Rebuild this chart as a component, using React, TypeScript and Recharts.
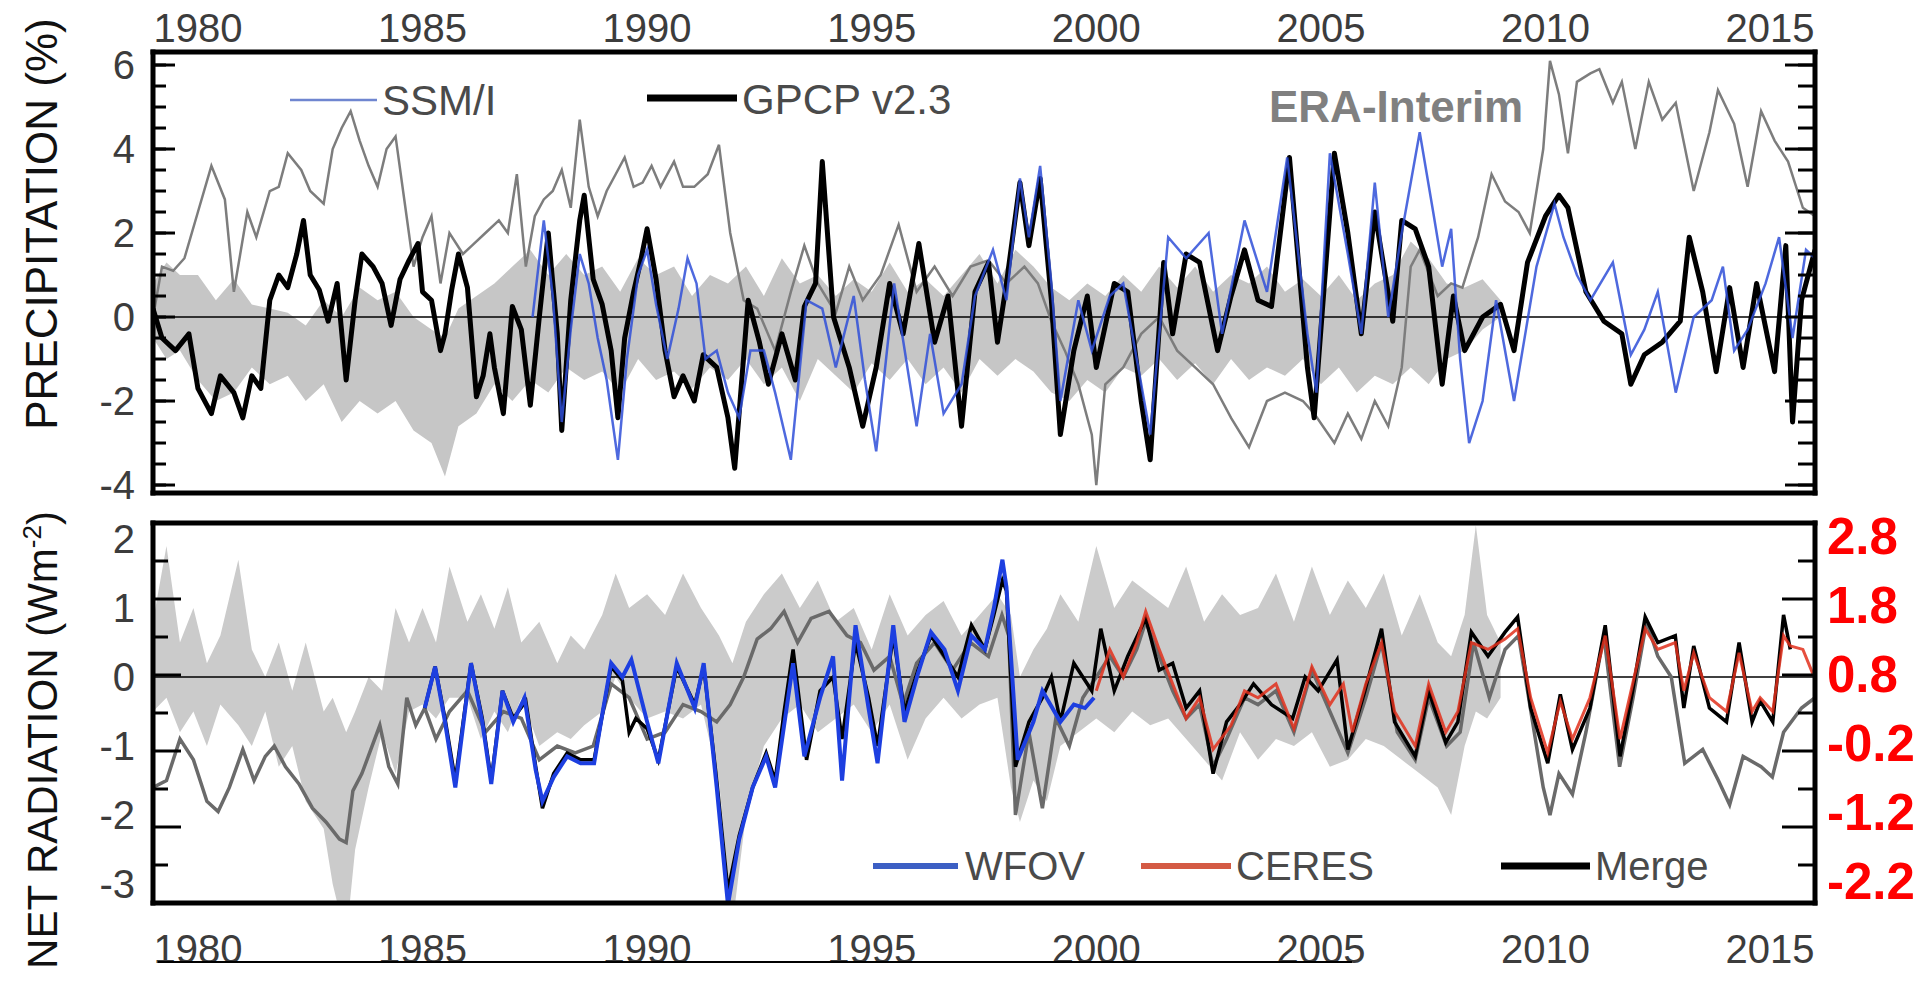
import React from 'react';
import { ComposedChart, Line, Area, XAxis, YAxis, ReferenceLine } from 'recharts';

type P = [number, number];
type B = [number, number, number];

// ---------- tick labels / positions ----------
const labelYears = [1980, 1985, 1990, 1995, 2000, 2005, 2010, 2015];
const allYears = [1980, 1981, 1982, 1983, 1984, 1985, 1986, 1987, 1988, 1989, 1990, 1991, 1992, 1993, 1994, 1995, 1996, 1997, 1998, 1999, 2000, 2001, 2002, 2003, 2004, 2005, 2006, 2007, 2008, 2009, 2010, 2011, 2012, 2013, 2014, 2015];
const decadeYears = [1980, 1990, 2000, 2010];
const precipTicks = [-4, -2, 0, 2, 4, 6];
const precipMinor = [-4, -3.5, -3, -2.5, -2, -1.5, -1, -0.5, 0, 0.5, 1, 1.5, 2, 2.5, 3, 3.5, 4, 4.5, 5, 5.5, 6];
const netTicks = [-3, -2, -1, 0, 1, 2];
const netFrameMajor = [1, 2, 3, 4];
const netFrameMinor = [0.5, 1.5, 2.5, 3.5, 4.5];
const redTicks = [2.8, 1.8, 0.8, -0.2, -1.2, -2.2];

// ---------- top panel: precipitation anomaly (%) ----------
const precipBand: B[] = [
  [1979.0, -0.5, 0.8], [1979.3, -1.0, 1.3], [1979.6, -0.8, 1.0], [1980.0, -1.5, 1.0], [1980.4, -2.0, 0.4], [1980.8, -1.8, 0.9],
  [1981.2, -1.2, 0.3], [1981.6, -1.6, 0.2], [1982.0, -1.4, 0.1], [1982.4, -2.0, -0.2], [1982.8, -1.6, 0.4], [1983.2, -2.5, 0.0],
  [1983.6, -2.0, 0.7], [1984.0, -2.3, 0.4], [1984.4, -2.0, 0.6], [1984.8, -2.7, 0.0], [1985.2, -3.0, -0.3], [1985.5, -3.8, -0.5],
  [1985.8, -2.6, 0.2], [1986.2, -2.3, 0.5], [1986.6, -1.6, 0.8], [1987.0, -2.0, 1.2], [1987.4, -1.5, 1.6], [1987.8, -1.8, 1.0],
  [1988.2, -1.2, 1.5], [1988.6, -1.5, 1.0], [1989.0, -1.3, 1.2], [1989.4, -1.8, 0.6], [1989.8, -1.0, 1.4], [1990.2, -1.5, 1.0],
  [1990.6, -1.3, 1.2], [1991.0, -1.7, 0.5], [1991.4, -1.2, 1.0], [1991.8, -1.5, 0.8], [1992.2, -1.0, 1.2], [1992.6, -1.6, 0.5],
  [1993.0, -1.2, 1.4], [1993.4, -2.0, 0.8], [1993.8, -1.0, 1.0], [1994.2, -1.4, 0.5], [1994.6, -1.8, 0.9], [1995.0, -1.1, 0.6],
  [1995.4, -1.5, 1.3], [1995.8, -1.0, 0.6], [1996.2, -1.6, 0.9], [1996.6, -1.2, 0.5], [1997.0, -1.8, 1.0], [1997.4, -1.0, 1.5],
  [1997.8, -1.4, 0.8], [1998.2, -1.0, 1.6], [1998.6, -1.3, 1.2], [1999.0, -1.8, 0.7], [1999.4, -2.0, 0.4], [1999.8, -1.5, 0.8],
  [2000.2, -1.8, 0.5], [2000.6, -1.2, 1.0], [2001.0, -1.4, 0.6], [2001.4, -1.0, 1.2], [2001.8, -1.5, 0.7], [2002.2, -1.1, 1.2],
  [2002.6, -1.6, 0.6], [2003.0, -1.0, 1.0], [2003.4, -1.5, 0.8], [2003.8, -1.2, 1.2], [2004.2, -1.4, 0.6], [2004.6, -1.0, 0.9],
  [2005.0, -1.6, 0.5], [2005.4, -1.2, 1.0], [2005.8, -1.8, 0.4], [2006.2, -1.4, 0.8], [2006.6, -1.6, 1.0], [2007.0, -1.2, 1.8],
  [2007.4, -1.6, 1.4], [2007.8, -1.0, 0.8], [2008.2, -0.8, 0.7], [2008.6, -0.3, 0.9], [2009.0, 0.0, 0.4],
];

const eraPrecip: P[] = [
  [1979.0, 0.0], [1979.2, 1.2], [1979.45, 1.1], [1979.7, 1.4], [1980.0, 2.5], [1980.3, 3.6], [1980.6, 2.8], [1980.8, 0.6],
  [1981.1, 2.5], [1981.3, 1.9], [1981.6, 3.0], [1981.8, 3.1], [1982.0, 3.9], [1982.3, 3.5], [1982.5, 3.0], [1982.8, 2.7],
  [1983.0, 4.0], [1983.2, 4.5], [1983.4, 4.9], [1983.6, 4.2], [1983.8, 3.6], [1984.0, 3.1], [1984.2, 4.0], [1984.4, 4.3],
  [1984.6, 2.75], [1984.8, 1.2], [1985.0, 1.9], [1985.2, 2.4], [1985.4, 0.8], [1985.6, 2.0], [1985.9, 1.5], [1986.1, 1.7],
  [1986.4, 2.0], [1986.7, 2.3], [1986.9, 2.0], [1987.1, 3.4], [1987.3, 1.2], [1987.5, 2.4], [1987.7, 2.8], [1987.9, 3.0],
  [1988.1, 3.5], [1988.3, 2.6], [1988.5, 4.7], [1988.7, 3.1], [1988.9, 2.4], [1989.1, 3.0], [1989.3, 3.4], [1989.5, 3.8],
  [1989.7, 3.1], [1989.9, 3.2], [1990.1, 3.6], [1990.3, 3.1], [1990.6, 3.7], [1990.8, 3.1], [1991.05, 3.1], [1991.35, 3.4],
  [1991.6, 4.1], [1991.85, 2.0], [1992.15, 0.4], [1992.45, 0.2], [1992.85, -0.8], [1993.2, 0.6], [1993.5, 1.7], [1993.8, 0.8],
  [1994.2, 0.1], [1994.5, 1.2], [1994.8, 0.4], [1995.2, 1.0], [1995.6, 2.2], [1996.0, 0.6], [1996.4, 1.2], [1996.8, 0.5],
  [1997.2, 1.2], [1997.6, 1.35], [1998.0, 0.8], [1998.4, 1.2], [1998.7, 0.8], [1999.0, -0.1], [1999.3, -0.8], [1999.6, -1.6],
  [1999.9, -2.8], [2000.0, -4.0], [2000.2, -1.6], [2000.6, -1.2], [2001.0, -0.4], [2001.4, 0.0], [2001.8, -0.8], [2002.2, -1.2],
  [2002.6, -1.6], [2003.0, -2.4], [2003.4, -3.1], [2003.8, -2.0], [2004.2, -1.8], [2004.6, -2.0], [2004.85, -2.3], [2005.3, -3.0],
  [2005.6, -2.3], [2005.9, -2.9], [2006.2, -2.0], [2006.5, -2.6], [2006.8, -1.2], [2007.0, 1.2], [2007.2, 1.6], [2007.6, 0.5],
  [2007.9, 0.8], [2008.15, 0.7], [2008.5, 1.9], [2008.8, 3.4], [2009.1, 2.75], [2009.4, 2.5], [2009.65, 2.0], [2009.95, 4.0],
  [2010.1, 6.1], [2010.3, 5.3], [2010.5, 3.9], [2010.7, 5.6], [2011.0, 5.8], [2011.2, 5.9], [2011.5, 5.1], [2011.7, 5.6],
  [2012.0, 4.0], [2012.3, 5.6], [2012.6, 4.7], [2012.9, 5.1], [2013.3, 3.0], [2013.65, 4.4], [2013.84, 5.4], [2014.2, 4.6],
  [2014.5, 3.1], [2014.8, 4.9], [2015.1, 4.2], [2015.4, 3.7], [2015.73, 2.6], [2016.0, 2.4],
];

const gpcp: P[] = [
  [1979.0, 0.2], [1979.2, -0.5], [1979.5, -0.8], [1979.8, -0.4], [1980.0, -1.7], [1980.3, -2.3], [1980.5, -1.4], [1980.8, -1.8],
  [1981.0, -2.4], [1981.2, -1.4], [1981.4, -1.7], [1981.6, 0.4], [1981.8, 1.0], [1982.0, 0.7], [1982.2, 1.5], [1982.35, 2.3],
  [1982.5, 1.0], [1982.7, 0.65], [1982.9, -0.1], [1983.1, 0.8], [1983.3, -1.5], [1983.5, 0.4], [1983.65, 1.5], [1983.9, 1.2],
  [1984.1, 0.8], [1984.3, -0.2], [1984.5, 0.9], [1984.7, 1.35], [1984.9, 1.75], [1985.0, 0.6], [1985.2, 0.4], [1985.4, -0.8],
  [1985.5, -0.4], [1985.65, 0.65], [1985.8, 1.5], [1986.0, 0.7], [1986.2, -1.9], [1986.35, -1.4], [1986.5, -0.4], [1986.6, -1.2],
  [1986.8, -2.3], [1987.0, 0.25], [1987.2, -0.3], [1987.4, -2.1], [1987.6, 0.0], [1987.8, 2.0], [1988.0, -0.4], [1988.1, -2.7],
  [1988.3, 0.4], [1988.5, 2.3], [1988.6, 2.9], [1988.8, 0.9], [1989.0, 0.3], [1989.2, -0.8], [1989.35, -2.4], [1989.5, -0.5],
  [1989.7, 0.6], [1989.85, 1.3], [1990.0, 2.1], [1990.2, 0.9], [1990.4, -0.8], [1990.6, -1.9], [1990.8, -1.4], [1991.05, -2.0],
  [1991.25, -0.9], [1991.55, -1.2], [1991.8, -2.4], [1991.95, -3.6], [1992.25, 0.4], [1992.5, -0.6], [1992.7, -1.6], [1993.0, -0.4],
  [1993.3, -1.5], [1993.5, 0.25], [1993.75, 0.8], [1993.9, 3.7], [1994.15, 0.0], [1994.5, -1.2], [1994.8, -2.6], [1995.1, -1.2],
  [1995.4, 0.8], [1995.7, -0.4], [1996.05, 1.75], [1996.4, -0.6], [1996.7, 0.5], [1997.0, -2.6], [1997.3, 0.6], [1997.6, 1.3],
  [1997.8, -0.6], [1998.0, 0.8], [1998.3, 3.2], [1998.5, 1.7], [1998.75, 3.3], [1999.0, 0.4], [1999.2, -2.8], [1999.5, -0.8],
  [1999.8, 0.5], [2000.0, -1.2], [2000.4, 0.8], [2000.7, 0.6], [2001.0, -2.0], [2001.2, -3.4], [2001.5, 1.3], [2001.7, -0.4],
  [2002.0, 1.5], [2002.3, 1.3], [2002.7, -0.8], [2003.0, 0.5], [2003.3, 1.6], [2003.6, 0.4], [2003.9, 0.25], [2004.3, 3.8],
  [2004.7, -1.2], [2004.85, -2.4], [2005.3, 3.9], [2005.6, 2.0], [2005.9, -0.4], [2006.2, 2.5], [2006.6, -0.1], [2006.8, 2.3],
  [2007.1, 2.1], [2007.4, 1.2], [2007.7, -1.6], [2007.95, 0.5], [2008.2, -0.8], [2008.6, 0.0], [2009.0, 0.3], [2009.3, -0.8],
  [2009.6, 1.3], [2010.0, 2.4], [2010.3, 2.9], [2010.5, 2.6], [2010.9, 0.6], [2011.3, -0.1], [2011.7, -0.4], [2011.9, -1.6],
  [2012.2, -0.9], [2012.6, -0.6], [2013.0, -0.1], [2013.2, 1.9], [2013.5, 0.6], [2013.8, -1.3], [2014.1, 0.7], [2014.4, -1.2],
  [2014.7, 0.8], [2015.1, -1.3], [2015.35, 1.7], [2015.5, -2.5], [2015.7, 0.4], [2016.0, 1.6],
];

const ssmi: P[] = [
  [1987.45, 0.0], [1987.7, 2.3], [1987.9, 0.5], [1988.1, -2.5], [1988.3, -0.3], [1988.5, 1.5], [1988.7, 0.8], [1988.9, -0.5],
  [1989.1, -1.5], [1989.35, -3.4], [1989.55, -1.0], [1989.8, 1.0], [1990.0, 1.6], [1990.2, 0.3], [1990.45, -1.0], [1990.7, 0.2],
  [1990.9, 1.4], [1991.1, 0.8], [1991.3, -1.0], [1991.55, -0.8], [1991.8, -1.8], [1992.05, -2.4], [1992.3, -0.8], [1992.6, -0.8],
  [1992.85, -1.8], [1993.2, -3.4], [1993.55, 0.4], [1993.9, 0.2], [1994.2, -1.2], [1994.6, 0.5], [1994.85, -1.5], [1995.1, -3.2],
  [1995.5, 0.8], [1996.0, -2.6], [1996.3, -0.4], [1996.6, -2.3], [1997.0, -1.6], [1997.3, 0.5], [1997.7, 1.6], [1998.0, 0.4],
  [1998.3, 3.3], [1998.5, 1.9], [1998.75, 3.6], [1999.0, 0.8], [1999.2, -2.0], [1999.6, 0.4], [1999.9, -0.8], [2000.3, 0.5],
  [2000.6, 0.8], [2000.9, -1.0], [2001.2, -2.8], [2001.6, 1.9], [2002.0, 1.4], [2002.5, 2.0], [2002.8, -0.4], [2003.3, 2.3],
  [2003.8, 0.6], [2004.25, 3.8], [2004.7, -0.4], [2004.9, -1.8], [2005.2, 3.9], [2005.6, 1.5], [2005.9, -0.4], [2006.2, 3.2],
  [2006.5, 0.0], [2006.8, 2.0], [2007.2, 4.4], [2007.5, 2.5], [2007.7, 1.2], [2007.9, 2.1], [2008.1, -1.0], [2008.3, -3.0],
  [2008.6, -2.0], [2008.9, 0.4], [2009.3, -2.0], [2009.8, 1.2], [2010.2, 2.7], [2010.4, 1.9], [2010.7, 1.0], [2011.0, 0.4],
  [2011.5, 1.3], [2011.9, -0.9], [2012.2, -0.3], [2012.5, 0.6], [2012.9, -1.8], [2013.3, 0.0], [2013.7, 0.4], [2013.95, 1.2],
  [2014.2, -0.8], [2014.5, -0.3], [2014.9, 0.8], [2015.2, 1.9], [2015.5, -0.5], [2015.8, 1.6], [2016.0, 1.4],
];

// ---------- bottom panel: net radiation (W m-2) ----------
const netBand: B[] = [
  [1979.0, -0.5, 0.8], [1979.3, -0.3, 1.9], [1979.6, -0.8, 0.5], [1979.9, -0.5, 1.0], [1980.2, -1.0, 0.2], [1980.5, -0.4, 0.6],
  [1980.9, -0.7, 1.7], [1981.2, -1.0, 0.4], [1981.5, -0.5, 0.0], [1981.8, -1.3, 0.5], [1982.1, -1.0, -0.2], [1982.4, -1.8, 0.5],
  [1982.8, -2.2, -0.5], [1983.0, -3.0, -0.3], [1983.3, -3.8, -0.8], [1983.5, -2.5, -0.5], [1983.8, -1.6, 0.0], [1984.1, -0.8, -0.2],
  [1984.4, -1.4, 1.0], [1984.7, -0.5, 0.5], [1985.0, -0.4, 1.0], [1985.3, -0.6, 0.5], [1985.6, -0.3, 1.6], [1986.0, -0.3, 0.8],
  [1986.3, -0.9, 1.2], [1986.6, -0.5, 0.7], [1986.9, -0.8, 1.3], [1987.2, -0.3, 0.5], [1987.6, -1.0, 0.8], [1988.0, -0.8, 0.2],
  [1988.3, -0.9, 0.6], [1988.6, -0.7, 0.4], [1989.0, -0.5, 0.9], [1989.3, 0.0, 1.5], [1989.6, -0.3, 1.0], [1990.0, -0.6, 1.2],
  [1990.4, -0.5, 0.9], [1990.8, -0.6, 1.5], [1991.2, -0.4, 1.0], [1991.6, -1.5, 0.6], [1991.9, -3.6, 0.2], [1992.2, -2.0, 0.8],
  [1992.6, -1.0, 1.2], [1993.0, -0.6, 1.5], [1993.4, -0.4, 1.0], [1993.8, -0.8, 1.4], [1994.2, -0.6, 0.8], [1994.6, -0.4, 1.0],
  [1995.0, -0.8, 0.4], [1995.4, -0.4, 1.2], [1995.8, -1.2, 0.6], [1996.2, -0.6, 0.9], [1996.6, -0.3, 1.1], [1997.0, -0.6, 0.6],
  [1997.4, -0.4, 0.9], [1997.8, -0.3, 1.2], [1998.1, -1.6, 0.9], [1998.3, -2.1, 0.0], [1998.6, -1.5, 0.4], [1998.9, -1.8, 0.7],
  [1999.2, -1.0, 1.2], [1999.6, -0.8, 0.8], [2000.0, -0.6, 1.9], [2000.4, -0.8, 1.0], [2000.8, -0.5, 1.4], [2001.2, -0.7, 1.2],
  [2001.6, -0.6, 1.0], [2002.0, -0.9, 1.6], [2002.4, -1.2, 0.8], [2002.8, -1.5, 1.2], [2003.2, -0.8, 0.9], [2003.6, -1.2, 1.0],
  [2004.0, -0.9, 1.5], [2004.4, -1.0, 0.8], [2004.8, -0.8, 1.6], [2005.2, -1.3, 0.9], [2005.6, -1.2, 1.4], [2006.0, -0.9, 1.0],
  [2006.4, -1.0, 1.5], [2006.8, -1.2, 0.6], [2007.2, -1.4, 1.2], [2007.6, -1.6, 0.5], [2007.9, -2.0, 0.3], [2008.2, -1.0, 0.9],
  [2008.45, -0.5, 2.2], [2008.7, -0.6, 0.9], [2009.0, -0.3, 0.5],
];

const eraNet: P[] = [
  [1979.0, -1.6], [1979.3, -1.5], [1979.6, -0.9], [1979.9, -1.2], [1980.2, -1.8], [1980.45, -1.95], [1980.7, -1.6], [1981.0, -1.05],
  [1981.25, -1.5], [1981.5, -1.15], [1981.7, -1.0], [1981.95, -1.3], [1982.25, -1.55], [1982.55, -1.9], [1982.85, -2.1], [1983.15, -2.35],
  [1983.3, -2.4], [1983.45, -1.65], [1983.65, -1.4], [1983.85, -1.05], [1984.05, -0.7], [1984.25, -1.3], [1984.45, -1.55], [1984.65, -0.3],
  [1984.85, -0.7], [1985.05, -0.45], [1985.3, -0.9], [1985.6, -0.5], [1986.0, -0.2], [1986.4, -0.8], [1986.8, -0.5], [1987.2, -0.6],
  [1987.6, -1.2], [1988.0, -1.0], [1988.4, -1.1], [1988.8, -1.0], [1989.2, -0.1], [1989.6, -0.3], [1990.0, -0.9], [1990.4, -0.8],
  [1990.8, -0.4], [1991.2, -0.5], [1991.55, -0.65], [1991.85, -0.4], [1992.15, 0.0], [1992.45, 0.55], [1992.75, 0.7], [1993.05, 0.95],
  [1993.35, 0.5], [1993.65, 0.85], [1994.05, 0.95], [1994.45, 0.6], [1994.75, 0.5], [1995.05, 0.1], [1995.4, 0.3], [1995.7, -0.4],
  [1996.0, 0.2], [1996.4, 0.5], [1996.8, 0.1], [1997.2, 0.5], [1997.6, 0.3], [1997.9, 0.9], [1998.05, 0.6], [1998.2, -2.0],
  [1998.5, -0.8], [1998.8, -1.9], [1999.1, -0.6], [1999.4, -1.0], [1999.7, -0.3], [2000.0, 0.0], [2000.3, 0.3], [2000.6, 0.0],
  [2000.9, 0.4], [2001.1, 0.8], [2001.4, 0.3], [2001.7, -0.2], [2002.0, -0.6], [2002.3, -0.4], [2002.6, -1.3], [2002.9, -0.9],
  [2003.3, -0.3], [2003.6, -0.4], [2004.0, -0.2], [2004.4, -0.8], [2004.8, 0.1], [2005.2, -0.5], [2005.6, -1.1], [2006.0, -0.3],
  [2006.35, 0.5], [2006.7, -0.8], [2007.1, -1.2], [2007.4, -0.3], [2007.8, -1.0], [2008.1, -0.8], [2008.4, 0.5], [2008.75, -0.3],
  [2009.1, 0.4], [2009.4, 0.6], [2009.7, -0.6], [2009.95, -1.6], [2010.1, -2.0], [2010.3, -1.4], [2010.6, -1.7], [2010.9, -0.8],
  [2011.3, 0.6], [2011.65, -1.3], [2011.95, -0.3], [2012.25, 0.8], [2012.5, 0.3], [2012.8, 0.0], [2013.1, -1.25], [2013.5, -1.05],
  [2013.85, -1.5], [2014.1, -1.85], [2014.4, -1.15], [2014.8, -1.3], [2015.05, -1.45], [2015.3, -0.8], [2015.7, -0.45], [2016.0, -0.3],
];

const wfov: P[] = [
  [1985.05, -0.45], [1985.28, 0.15], [1985.5, -0.65], [1985.73, -1.6], [1986.08, 0.2], [1986.33, -0.65], [1986.53, -1.55], [1986.78, -0.2],
  [1987.02, -0.65], [1987.27, -0.3], [1987.52, -1.35], [1987.67, -1.8], [1987.92, -1.45], [1988.22, -1.15], [1988.52, -1.25], [1988.82, -1.25],
  [1988.96, -0.7], [1989.2, 0.2], [1989.45, 0.0], [1989.65, 0.25], [1990.0, -0.65], [1990.25, -1.25], [1990.66, 0.2], [1991.06, -0.45],
  [1991.26, 0.2], [1991.55, -1.6], [1991.8, -3.3], [1992.05, -2.35], [1992.35, -1.6], [1992.65, -1.15], [1992.85, -1.6], [1993.05, -0.7],
  [1993.25, 0.2], [1993.5, -1.15], [1993.85, -0.3], [1994.14, 0.3], [1994.34, -1.5], [1994.64, 0.75], [1994.93, -0.45], [1995.13, -1.25],
  [1995.48, 0.75], [1995.73, -0.65], [1996.03, 0.05], [1996.32, 0.65], [1996.62, 0.4], [1996.92, -0.2], [1997.22, 0.6], [1997.52, 0.4],
  [1997.72, 1.0], [1997.91, 1.7], [1998.0, 1.3], [1998.25, -1.2], [1998.6, -0.65], [1998.8, -0.2], [1999.2, -0.65], [1999.5, -0.4],
  [1999.75, -0.45], [1999.95, -0.3],
];

const ceres: P[] = [
  [2000.0, -0.2], [2000.3, 0.4], [2000.6, 0.0], [2000.9, 0.5], [2001.1, 0.95], [2001.4, 0.4], [2001.7, -0.1], [2002.0, -0.6],
  [2002.3, -0.3], [2002.6, -1.05], [2003.0, -0.7], [2003.3, -0.2], [2003.6, -0.3], [2004.0, -0.1], [2004.4, -0.75], [2004.8, 0.15],
  [2005.2, -0.4], [2005.5, -0.1], [2005.7, -0.8], [2006.0, -0.1], [2006.35, 0.5], [2006.64, -0.5], [2007.1, -1.0], [2007.4, -0.1],
  [2007.78, -0.8], [2008.05, -0.5], [2008.35, 0.5], [2008.72, 0.4], [2009.1, 0.55], [2009.38, 0.7], [2009.67, -0.3], [2010.05, -1.1],
  [2010.33, -0.35], [2010.6, -0.9], [2010.99, -0.3], [2011.33, 0.6], [2011.66, -0.9], [2011.94, -0.1], [2012.22, 0.7], [2012.5, 0.4],
  [2012.89, 0.5], [2013.08, -0.2], [2013.3, 0.35], [2013.65, -0.3], [2014.03, -0.5], [2014.31, 0.35], [2014.6, -0.5], [2014.78, -0.3],
  [2015.06, -0.5], [2015.3, 0.6], [2015.45, 0.45], [2015.73, 0.4], [2015.95, 0.05],
];

const merge: P[] = [
  [1985.05, -0.45], [1985.28, 0.15], [1985.5, -0.6], [1985.73, -1.5], [1986.08, 0.2], [1986.33, -0.6], [1986.53, -1.5], [1986.78, -0.2],
  [1987.02, -0.6], [1987.3, -0.35], [1987.52, -1.3], [1987.67, -1.9], [1987.92, -1.4], [1988.22, -1.1], [1988.52, -1.2], [1988.82, -1.2],
  [1988.96, -0.7], [1989.2, 0.15], [1989.45, -0.05], [1989.6, -0.8], [1989.75, -0.6], [1990.0, -0.75], [1990.25, -1.2], [1990.66, 0.15],
  [1991.06, -0.4], [1991.26, 0.15], [1991.55, -1.5], [1991.8, -3.1], [1992.05, -2.3], [1992.35, -1.6], [1992.65, -1.1], [1992.85, -1.5],
  [1993.05, -0.5], [1993.25, 0.4], [1993.55, -1.2], [1993.85, -0.2], [1994.14, 0.0], [1994.34, -0.9], [1994.64, 0.5], [1994.93, -0.3],
  [1995.13, -1.0], [1995.48, 0.6], [1995.73, -0.5], [1996.03, 0.1], [1996.32, 0.6], [1996.62, 0.3], [1996.92, 0.0], [1997.22, 0.75],
  [1997.52, 0.4], [1997.72, 0.9], [1997.91, 1.4], [1998.0, 1.25], [1998.2, -1.3], [1998.5, -0.65], [1998.8, -0.3], [1999.0, 0.0],
  [1999.2, -0.65], [1999.5, 0.2], [1999.9, -0.2], [2000.1, 0.7], [2000.4, -0.2], [2000.7, 0.3], [2001.1, 0.85], [2001.4, 0.1],
  [2001.7, 0.2], [2002.0, -0.45], [2002.3, -0.2], [2002.6, -1.4], [2002.9, -0.65], [2003.2, -0.4], [2003.5, -0.1], [2003.9, -0.4],
  [2004.37, -0.6], [2004.65, 0.0], [2004.94, -0.2], [2005.36, 0.25], [2005.6, -1.05], [2005.98, -0.2], [2006.35, 0.7], [2006.64, -0.65],
  [2007.1, -1.15], [2007.4, -0.2], [2007.78, -0.95], [2008.05, -0.65], [2008.35, 0.65], [2008.72, 0.3], [2009.1, 0.65], [2009.38, 0.87],
  [2009.67, -0.45], [2010.05, -1.25], [2010.33, -0.25], [2010.6, -1.05], [2010.99, -0.45], [2011.33, 0.75], [2011.66, -1.15], [2011.94, -0.2],
  [2012.22, 0.87], [2012.5, 0.5], [2012.89, 0.6], [2013.08, -0.45], [2013.3, 0.45], [2013.65, -0.45], [2014.03, -0.65], [2014.31, 0.5],
  [2014.6, -0.65], [2014.78, -0.35], [2015.06, -0.65], [2015.3, 0.9], [2015.45, 0.4],
];

// ---------- helpers to build library tables ----------
const rows = (pts: P[]) => pts.map(([t, v]) => ({ t, v }));
const bandRows = (pts: B[]) => pts.map(([t, lo, hi]) => ({ t, r: [lo, hi] }));

const F = '"Liberation Sans", Arial, sans-serif';
const FRAME = { stroke: '#000', strokeWidth: 5, strokeLinecap: 'square' as const };
const TL = { stroke: '#000', strokeWidth: 3 };
const tickText = { fill: '#3c3c3c', fontSize: 40, fontFamily: F };
const noText = () => '';

const X_DOMAIN: [number, number] = [1979, 2016];
const P_DOMAIN: [number, number] = [-4.19, 6.31];
const N_DOMAIN: [number, number] = [-3.275, 2.232];
const R_DOMAIN: [number, number] = [-2.515, 2.992];
const W = 1917;
const H = 993;

function PrecipPanel() {
  return (
    <ComposedChart width={W} height={H} margin={{ top: 51, left: 152, right: 102, bottom: H - 493 }}>
      <XAxis xAxisId="x" type="number" dataKey="t" domain={X_DOMAIN} allowDataOverflow orientation="top" height={1}
        ticks={labelYears} interval={0} tickSize={0} tickMargin={10} tickLine={false} axisLine={FRAME} tick={tickText} />
      <XAxis xAxisId="xt" type="number" domain={X_DOMAIN} allowDataOverflow orientation="top" mirror height={1}
        ticks={allYears} interval={0} tickFormatter={noText} tickSize={8} tickLine={TL} axisLine={false} />
      <XAxis xAxisId="xb" type="number" domain={X_DOMAIN} allowDataOverflow orientation="bottom" mirror height={1}
        ticks={allYears} interval={0} tickFormatter={noText} tickSize={7} tickLine={TL} axisLine={FRAME} />
      <YAxis yAxisId="y" type="number" domain={P_DOMAIN} allowDataOverflow width={1} ticks={precipTicks} interval={0}
        tickSize={0} tickMargin={18} tickLine={false} axisLine={FRAME} tick={tickText} />
      <YAxis yAxisId="yl1" type="number" domain={P_DOMAIN} allowDataOverflow width={1} mirror ticks={precipTicks} interval={0}
        tickFormatter={noText} tickSize={22} tickLine={TL} axisLine={false} />
      <YAxis yAxisId="yl2" type="number" domain={P_DOMAIN} allowDataOverflow width={1} mirror ticks={precipMinor} interval={0}
        tickFormatter={noText} tickSize={12} tickLine={TL} axisLine={false} />
      <YAxis yAxisId="yr1" type="number" orientation="right" domain={P_DOMAIN} allowDataOverflow width={1} mirror ticks={precipTicks} interval={0}
        tickFormatter={noText} tickSize={30} tickLine={TL} axisLine={FRAME} />
      <YAxis yAxisId="yr2" type="number" orientation="right" domain={P_DOMAIN} allowDataOverflow width={1} mirror ticks={precipMinor} interval={0}
        tickFormatter={noText} tickSize={16} tickLine={TL} axisLine={false} />
      <Area xAxisId="x" yAxisId="y" data={bandRows(precipBand)} dataKey="r" type="linear" stroke="none" fill="#c6c6c6" fillOpacity={1} isAnimationActive={false} />
      <ReferenceLine xAxisId="x" yAxisId="y" y={0} stroke="#000" strokeWidth={1.5} />
      <Line xAxisId="x" yAxisId="y" data={rows(eraPrecip)} dataKey="v" type="linear" dot={false} stroke="#7d7d7d" strokeWidth={2.5} isAnimationActive={false} />
      <Line xAxisId="x" yAxisId="y" data={rows(gpcp)} dataKey="v" type="linear" dot={false} stroke="#000" strokeWidth={5} strokeLinejoin="round" isAnimationActive={false} />
      <Line xAxisId="x" yAxisId="y" data={rows(ssmi)} dataKey="v" type="linear" dot={false} stroke="#2f4fd8" strokeOpacity={0.85} strokeWidth={2.5} isAnimationActive={false} />
    </ComposedChart>
  );
}

function NetPanel() {
  return (
    <ComposedChart width={W} height={H} margin={{ top: 523, left: 152, right: 101, bottom: H - 903 - 1 }}>
      <XAxis xAxisId="x" type="number" dataKey="t" domain={X_DOMAIN} allowDataOverflow orientation="bottom" height={1}
        ticks={labelYears} interval={0} tickSize={0} tickMargin={32} tickLine={false} axisLine={FRAME} tick={tickText} />
      <XAxis xAxisId="xb1" type="number" domain={X_DOMAIN} allowDataOverflow orientation="bottom" mirror height={1}
        ticks={labelYears} interval={0} tickFormatter={noText} tickSize={15} tickLine={TL} axisLine={false} />
      <XAxis xAxisId="xb2" type="number" domain={X_DOMAIN} allowDataOverflow orientation="bottom" mirror height={1}
        ticks={allYears} interval={0} tickFormatter={noText} tickSize={7} tickLine={TL} axisLine={false} />
      <XAxis xAxisId="xt" type="number" domain={X_DOMAIN} allowDataOverflow orientation="top" mirror height={1}
        ticks={decadeYears} interval={0} tickFormatter={noText} tickSize={8} tickLine={TL} axisLine={FRAME} />
      <YAxis yAxisId="y" type="number" domain={N_DOMAIN} allowDataOverflow width={1} ticks={netTicks} interval={0}
        tickSize={0} tickMargin={18} tickLine={false} axisLine={FRAME} tick={tickText} />
      <YAxis yAxisId="yl1" type="number" domain={[0, 5]} allowDataOverflow width={1} mirror ticks={netFrameMajor} interval={0}
        tickFormatter={noText} tickSize={28} tickLine={TL} axisLine={false} />
      <YAxis yAxisId="yl2" type="number" domain={[0, 5]} allowDataOverflow width={1} mirror ticks={netFrameMinor} interval={0}
        tickFormatter={noText} tickSize={14} tickLine={TL} axisLine={false} />
      <YAxis yAxisId="yr1" type="number" orientation="right" domain={[0, 5]} allowDataOverflow width={1} mirror ticks={netFrameMajor} interval={0}
        tickFormatter={noText} tickSize={33} tickLine={TL} axisLine={FRAME} />
      <YAxis yAxisId="yr2" type="number" orientation="right" domain={[0, 5]} allowDataOverflow width={1} mirror ticks={netFrameMinor} interval={0}
        tickFormatter={noText} tickSize={16} tickLine={TL} axisLine={false} />
      <YAxis yAxisId="red" type="number" orientation="right" domain={R_DOMAIN} allowDataOverflow width={1} ticks={redTicks} interval={0}
        tickSize={0} tickMargin={12} tickLine={false} axisLine={false}
        tick={{ fill: '#ff0000', fontSize: 51, fontWeight: 700, fontFamily: F }} />
      <Area xAxisId="x" yAxisId="y" data={bandRows(netBand)} dataKey="r" type="linear" stroke="none" fill="#cbcbcb" fillOpacity={1} isAnimationActive={false} />
      <ReferenceLine xAxisId="x" yAxisId="y" y={0} stroke="#000" strokeWidth={1.5} />
      <Line xAxisId="x" yAxisId="y" data={rows(eraNet)} dataKey="v" type="linear" dot={false} stroke="#6a6a6a" strokeWidth={3.5} isAnimationActive={false} />
      <Line xAxisId="x" yAxisId="y" data={rows(merge)} dataKey="v" type="linear" dot={false} stroke="#000" strokeWidth={3.5} isAnimationActive={false} />
      <Line xAxisId="x" yAxisId="y" data={rows(wfov)} dataKey="v" type="linear" dot={false} stroke="#1d3fe0" strokeWidth={4} isAnimationActive={false} />
      <Line xAxisId="x" yAxisId="y" data={rows(ceres)} dataKey="v" type="linear" dot={false} stroke="#e2301c" strokeOpacity={0.85} strokeWidth={3} isAnimationActive={false} />
    </ComposedChart>
  );
}

function Decorations() {
  const legendText = { fontFamily: F, fontSize: 40, fill: '#4a4a4a' };
  return (
    <svg width={W} height={H} style={{ position: 'absolute', left: 0, top: 0, pointerEvents: 'none' }}>
      {/* top legend */}
      <line x1={290} y1={100} x2={377} y2={100} stroke="#6f86d0" strokeWidth={2.5} />
      <text x={382} y={115} {...legendText} fontSize={42}>SSM/I</text>
      <line x1={647} y1={98} x2={737} y2={98} stroke="#000" strokeWidth={7} />
      <text x={742} y={114} {...legendText} fontSize={42}>GPCP v2.3</text>
      <text x={1269} y={122} fontFamily={F} fontWeight={700} fontSize={44} fill="#808080">ERA-Interim</text>
      {/* bottom legend */}
      <line x1={873} y1={866} x2={958} y2={866} stroke="#3c5fc4" strokeWidth={6} />
      <text x={965} y={880} {...legendText}>WFOV</text>
      <line x1={1141} y1={866} x2={1231} y2={866} stroke="#d45a44" strokeWidth={6} />
      <text x={1236} y={880} {...legendText}>CERES</text>
      <line x1={1501} y1={866} x2={1590} y2={866} stroke="#000" strokeWidth={7} />
      <text x={1595} y={880} {...legendText}>Merge</text>
      {/* axis titles */}
      <text transform="translate(57,224) rotate(-90)" textAnchor="middle" fontFamily={F} fontSize={44} fill="#111">PRECIPITATION (%)</text>
      <text transform="translate(57,740) rotate(-90)" textAnchor="middle" fontFamily={F} fontSize={42} fill="#111">
        NET RADIATION (Wm<tspan dy={-16} fontSize={26}>-2</tspan><tspan dy={16}>)</tspan>
      </text>
      {/* underline below bottom axis labels */}
      <line x1={158} y1={962} x2={1352} y2={962} stroke="#000" strokeWidth={2} />
    </svg>
  );
}

export default function App() {
  return (
    <div style={{ position: 'fixed', left: 0, top: 0, width: W, height: H, background: '#fff', overflow: 'hidden' }}>
      <div style={{ position: 'absolute', left: 0, top: 0 }}>
        <PrecipPanel />
      </div>
      <div style={{ position: 'absolute', left: 0, top: 0 }}>
        <NetPanel />
      </div>
      <Decorations />
    </div>
  );
}
